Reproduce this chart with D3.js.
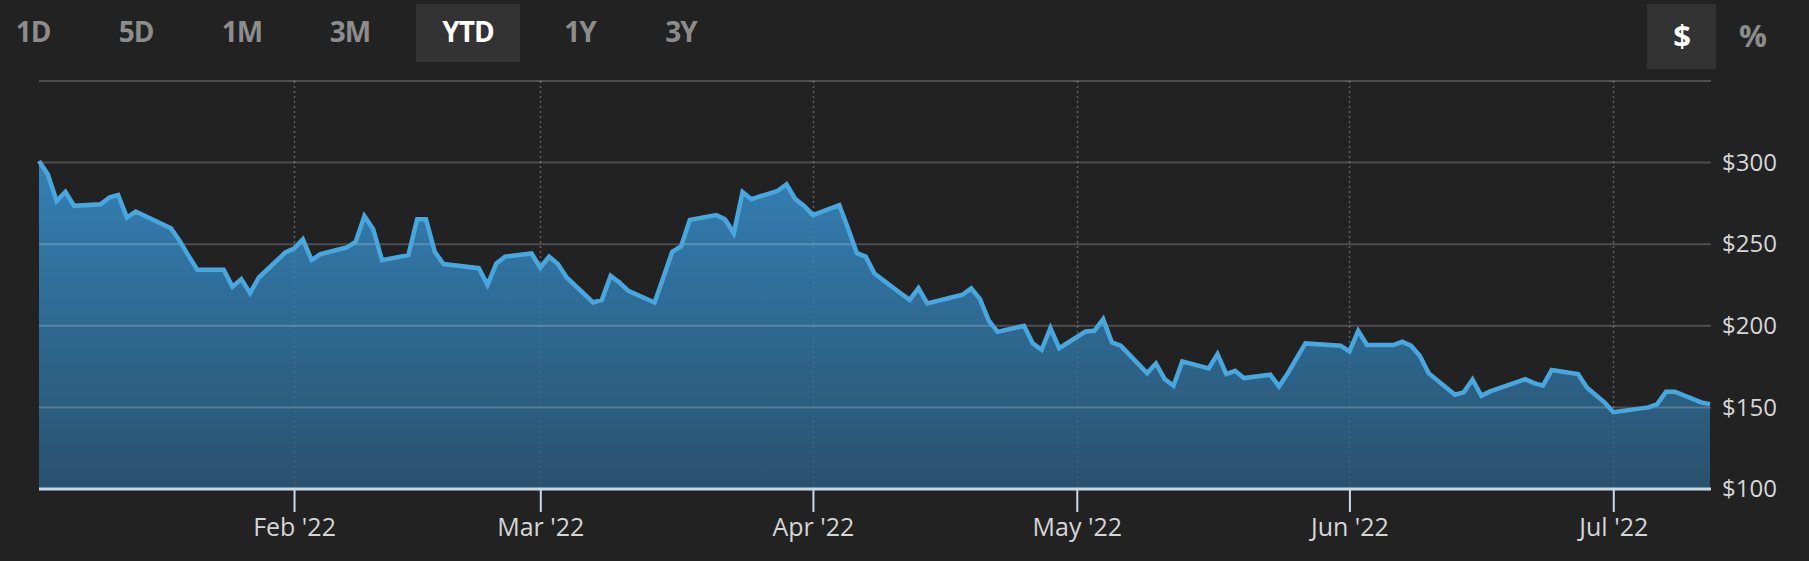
<!DOCTYPE html>
<html><head><meta charset="utf-8">
<script src="https://cdn.jsdelivr.net/npm/d3@7"></script>
<style>
html,body{margin:0;padding:0;background:#222222;}
svg{display:block}
</style></head><body>
<svg id="chart" width="1809" height="561"></svg>
<script>
// ---- data ----
const tradeDates = [
 "2022-01-03","2022-01-04","2022-01-05","2022-01-06","2022-01-07","2022-01-10","2022-01-11","2022-01-12","2022-01-13","2022-01-14",
 "2022-01-18","2022-01-19","2022-01-20","2022-01-21","2022-01-24","2022-01-25","2022-01-26","2022-01-27","2022-01-28","2022-01-31",
 "2022-02-01","2022-02-02","2022-02-03","2022-02-04","2022-02-07","2022-02-08","2022-02-09","2022-02-10","2022-02-11","2022-02-14",
 "2022-02-15","2022-02-16","2022-02-17","2022-02-18","2022-02-22","2022-02-23","2022-02-24","2022-02-25","2022-02-28",
 "2022-03-01","2022-03-02","2022-03-03","2022-03-04","2022-03-07","2022-03-08","2022-03-09","2022-03-10","2022-03-11","2022-03-14",
 "2022-03-15","2022-03-16","2022-03-17","2022-03-18","2022-03-21","2022-03-22","2022-03-23","2022-03-24","2022-03-25","2022-03-28",
 "2022-03-29","2022-03-30","2022-03-31",
 "2022-04-01","2022-04-04","2022-04-05","2022-04-06","2022-04-07","2022-04-08","2022-04-11","2022-04-12","2022-04-13","2022-04-14",
 "2022-04-18","2022-04-19","2022-04-20","2022-04-21","2022-04-22","2022-04-25","2022-04-26","2022-04-27","2022-04-28","2022-04-29",
 "2022-05-02","2022-05-03","2022-05-04","2022-05-05","2022-05-06","2022-05-09","2022-05-10","2022-05-11","2022-05-12","2022-05-13",
 "2022-05-16","2022-05-17","2022-05-18","2022-05-19","2022-05-20","2022-05-23","2022-05-24","2022-05-25","2022-05-26","2022-05-27",
 "2022-05-31",
 "2022-06-01","2022-06-02","2022-06-03","2022-06-06","2022-06-07","2022-06-08","2022-06-09","2022-06-10","2022-06-13","2022-06-14",
 "2022-06-15","2022-06-16","2022-06-17","2022-06-21","2022-06-22","2022-06-23","2022-06-24","2022-06-27","2022-06-28","2022-06-29",
 "2022-06-30",
 "2022-07-01","2022-07-05","2022-07-06","2022-07-07","2022-07-08","2022-07-11","2022-07-12"
];
const closePrices = [
 301.0,292.9,276.5,282.0,273.5,274.5,278.6,280.2,266.3,270.0,
 259.8,252.0,242.9,234.3,234.3,223.9,228.6,220.0,229.6,244.9,
 247.3,253.0,240.2,243.9,248.0,251.4,267.3,259.2,240.2,243.3,
 265.3,265.3,245.3,237.8,235.3,225.1,238.2,242.4,244.3,
 235.7,242.4,237.8,229.6,214.3,215.9,230.6,226.5,221.4,214.3,
 229.8,245.3,248.6,264.9,267.8,265.3,256.7,282.0,277.6,282.7,
 286.7,277.6,273.5,
 267.8,273.9,259.6,244.5,242.4,232.0,219.8,215.9,223.1,213.7,
 219.0,222.9,216.3,203.1,196.3,200.0,189.2,185.3,198.6,186.3,
 196.5,196.9,204.1,189.8,187.8,171.0,176.9,167.3,163.3,178.2,
 173.9,182.7,170.4,172.4,168.0,170.0,162.9,171.0,180.2,189.2,
 187.8,
 184.3,196.9,188.2,188.2,190.2,187.8,181.6,171.0,157.8,159.2,
 167.1,157.1,159.8,167.3,164.9,163.3,172.9,170.4,162.2,157.6,
 153.1,
 147.1,150.0,152.0,159.6,159.6,153.1,152.0
];
const rangeButtons = ["1D","5D","1M","3M","YTD","1Y","3Y"];
const selectedRange = "YTD";
const unitButtons = ["$","%"];
const selectedUnit = "$";
const gridValues = [150,200,250,300,350];
const yLabelValues = [100,150,200,250,300];
const monthTicks = ["2022-02-01","2022-03-01","2022-04-01","2022-05-01","2022-06-01","2022-07-01"];

// ---- layout ----
const parse = d3.timeParse("%Y-%m-%d");
const data = tradeDates.map((d,i)=>({date:parse(d), value:closePrices[i]}));
const pL = 39, pR = 1711, pT = 81, pB = 489;

const x = d3.scaleTime().domain(d3.extent(data, d=>d.date)).range([pL, pR-1]);
const y = d3.scaleLinear().domain([100,350]).range([pB, pT]);

const svg = d3.select("#chart");
svg.append("rect").attr("width",1809).attr("height",561).attr("fill","#222222");

const defs = svg.append("defs");
const grad = defs.append("linearGradient").attr("id","areaGrad")
  .attr("gradientUnits","userSpaceOnUse").attr("x1",0).attr("x2",0).attr("y1",y(300)).attr("y2",pB);
grad.append("stop").attr("offset","0%").attr("stop-color","#3480b5");
grad.append("stop").attr("offset","100%").attr("stop-color","#29516d");

// vertical dotted month lines
svg.append("g").selectAll("line").data(monthTicks).join("line")
  .attr("x1",d=>Math.round(x(parse(d)))+0.5).attr("x2",d=>Math.round(x(parse(d)))+0.5)
  .attr("y1",pT).attr("y2",pB)
  .attr("stroke","rgba(255,255,255,0.22)").attr("stroke-width",1.5).attr("stroke-dasharray","2,3");

// area
const area = d3.area().x(d=>x(d.date)).y0(pB).y1(d=>y(d.value));
svg.append("path").datum(data).attr("d",area).attr("fill","url(#areaGrad)");

// horizontal gridlines
svg.append("g").selectAll("line").data(gridValues).join("line")
  .attr("x1",pL).attr("x2",pR).attr("y1",d=>y(d)).attr("y2",d=>y(d))
  .attr("stroke","rgba(255,255,255,0.2)").attr("stroke-width",2);

// dotted lines over area (faint)
svg.append("g").selectAll("line").data(monthTicks).join("line")
  .attr("x1",d=>Math.round(x(parse(d)))+0.5).attr("x2",d=>Math.round(x(parse(d)))+0.5)
  .attr("y1",pT).attr("y2",pB)
  .attr("stroke","rgba(255,255,255,0.08)").attr("stroke-width",1.5).attr("stroke-dasharray","2,3");

// line
const line = d3.line().x(d=>x(d.date)).y(d=>y(d.value));
svg.append("path").datum(data).attr("d",line).attr("fill","none")
  .attr("stroke","#47a7df").attr("stroke-width",4.5).attr("stroke-linejoin","miter").attr("stroke-linecap","butt");

// x axis
const xAxis = d3.axisBottom(x).tickValues(monthTicks.map(parse))
  .tickFormat(d3.timeFormat("%b '%y")).tickSize(23).tickPadding(6);
const gx = svg.append("g").attr("transform",`translate(0,${pB})`).call(xAxis);
gx.select(".domain").remove();
gx.selectAll(".tick line").attr("stroke","#c9d9e8").attr("stroke-width",2);
gx.selectAll(".tick text").attr("fill","#d6d6d6").style("font-family","'Open Sans', 'DejaVu Sans', sans-serif").style("font-size","25px");
svg.append("line").attr("x1",pL).attr("x2",pR).attr("y1",pB).attr("y2",pB)
  .attr("stroke","#c9d9e8").attr("stroke-width",3);

// y axis labels
const yAxis = d3.axisRight(y).tickValues(yLabelValues).tickSize(0).tickPadding(11).tickFormat(d=>"$"+d);
const gy = svg.append("g").attr("transform",`translate(${pR},0)`).call(yAxis);
gy.select(".domain").remove();
gy.selectAll(".tick text").attr("fill","#d6d6d6").style("font-family","'Open Sans', 'DejaVu Sans', sans-serif").style("font-size","24px");

// range buttons
const btnCenters = [33,136,242,350,468,580,681];
const bg = svg.append("g");
bg.append("rect").attr("x",416).attr("y",4).attr("width",104).attr("height",58).attr("fill","#333333");
bg.selectAll("text").data(rangeButtons).join("text")
  .attr("x",(d,i)=>btnCenters[i]).attr("y",42).attr("text-anchor","middle")
  .style("font-family","'Open Sans', 'DejaVu Sans', sans-serif").style("font-weight","700").style("font-size","28px")
  .style("letter-spacing","-1px")
  .attr("fill",d=>d===selectedRange?"#ffffff":"#8c8c8c").text(d=>d);

// unit buttons
const ug = svg.append("g");
ug.append("rect").attr("x",1647).attr("y",4).attr("width",69).attr("height",65).attr("fill","#333333");
ug.selectAll("text").data(unitButtons).join("text")
  .attr("x",(d,i)=>[1682,1753][i]).attr("y",47).attr("text-anchor","middle")
  .style("font-family","'Open Sans', 'DejaVu Sans', sans-serif").style("font-weight","700").style("font-size","31px")
  .attr("fill",d=>d===selectedUnit?"#ffffff":"#8c8c8c").text(d=>d);
</script>
</body></html>
